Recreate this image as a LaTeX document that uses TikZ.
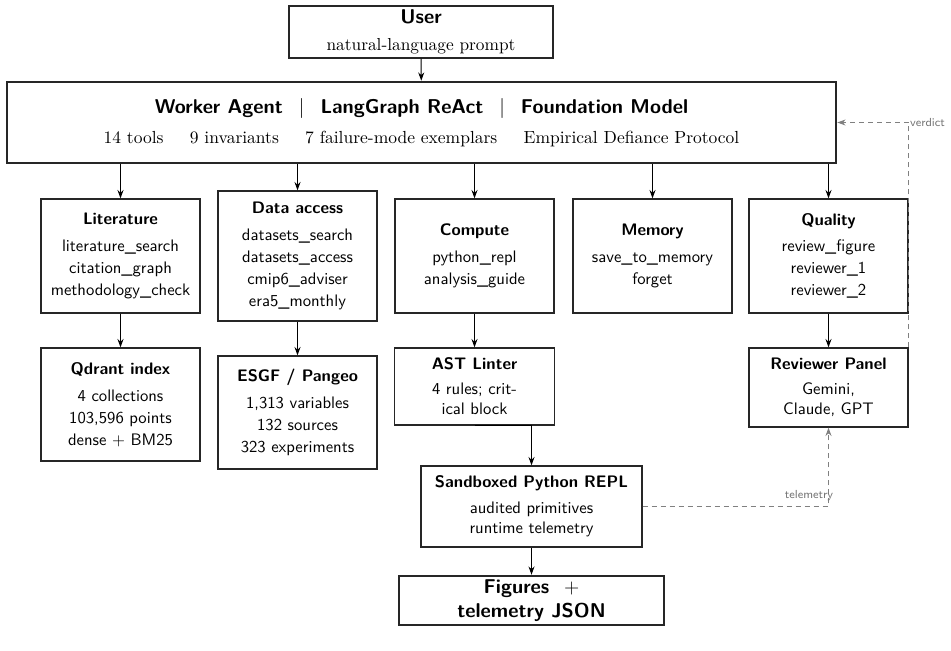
\documentclass[tikz,border=0pt]{standalone}
\usetikzlibrary{arrows.meta}
\begin{document}
\begin{tikzpicture}[x=0.6pt,y=-0.6pt,
  box/.style={draw=black!85, line width=0.8pt, align=center, font=\sffamily, inner sep=0pt},
  thickbox/.style={box, line width=1.5pt},
  sz/.style 2 args={minimum width={#1*0.6pt}, minimum height={#2*0.6pt}},
  arr/.style={-{Stealth[length=5pt,width=3.6pt]}, line width=0.6pt},
  fb/.style={-{Stealth[length=5pt,width=3.6pt]}, line width=0.7pt, draw=black!50, dash pattern=on 3pt off 2.4pt},
  lbl/.style={font=\sffamily\scriptsize, text=black!55, inner sep=0.5pt}]
\useasboundingbox (0,0) rectangle (951,650);

% top
\node[box, sz={264}{52}] (user) at (421,32)
  {{\large\bfseries User}\\[4pt]{\rmfamily\fontsize{10.4}{12.5}\selectfont natural-language prompt}};
\node[thickbox, sz={829}{81}] (worker) at (421.5,122.5)
  {{\large\bfseries Worker Agent\hspace{0.8em}{\mdseries$|$}\hspace{0.8em}LangGraph ReAct\hspace{0.8em}{\mdseries$|$}\hspace{0.8em}Foundation Model}\\[6pt]
   {\rmfamily\fontsize{10.5}{12.6}\selectfont 14 tools\hspace{1.5em}9 invariants\hspace{1.5em}7 failure-mode exemplars\hspace{1.5em}Empirical Defiance Protocol}};

% row 1
\node[box, sz={159}{114}] (lit) at (120.5,256)
  {\textbf{Literature}\\[4pt]literature\_search\\[1.2pt]citation\_graph\\[1.2pt]methodology\_check};
\node[box, sz={159}{130}] (data) at (297.5,256)
  {\textbf{Data access}\\[4pt]datasets\_search\\[1.2pt]datasets\_access\\[1.2pt]cmip6\_adviser\\[1.2pt]era5\_monthly};
\node[box, sz={159}{114}] (comp) at (474.5,256)
  {\textbf{Compute}\\[4pt]python\_repl\\[1.2pt]analysis\_guide};
\node[box, sz={159}{114}] (mem) at (652.5,256)
  {\textbf{Memory}\\[4pt]save\_to\_memory\\[1.2pt]forget};
\node[box, sz={159}{114}] (qual) at (828.5,256)
  {\textbf{Quality}\\[4pt]review\_figure\\[1.2pt]reviewer\_1\\[1.2pt]reviewer\_2};

% row 2
\node[box, sz={159}{113}] (qdrant) at (120.5,404.5)
  {\textbf{Qdrant index}\\[4pt]4 collections\\[1.2pt]103,596 points\\[1.2pt]dense $+$ BM25};
\node[box, sz={159}{113}] (esgf) at (297.5,412.5)
  {\textbf{ESGF / Pangeo}\\[4pt]1,313 variables\\[1.2pt]132 sources\\[1.2pt]323 experiments};
\node[box, sz={160}{77}] (ast) at (474.5,386.5)
  {\textbf{AST Linter}\\[3pt]4 rules; crit-\\ical block};
\node[box, sz={159}{79}] (rev) at (828.5,387.5)
  {\textbf{Reviewer Panel}\\[3pt]Gemini,\\Claude, GPT};

% bottom
\node[box, sz={221}{81}] (sandbox) at (531.5,506.5)
  {\textbf{Sandboxed Python REPL}\\[3.5pt]audited primitives\\runtime telemetry};
\node[thickbox, sz={265}{49}, font=\sffamily\large\bfseries] (fig) at (531.5,600.5)
  {Figures\ \ {\mdseries$+$}\\telemetry JSON};

% arrows
\draw[arr] (user) -- (worker);
\foreach \c in {lit,data,comp,mem,qual}
  \draw[arr] (worker.south -| \c.north) -- (\c.north);
\draw[arr] (lit) -- (qdrant);
\draw[arr] (data) -- (esgf);
\draw[arr] (comp) -- (ast);
\draw[arr] (qual) -- (rev);
\draw[arr] (ast.south) -| (sandbox.north);
\draw[arr] (sandbox) -- (fig);

% feedback
\draw[fb] (sandbox.east) -| (rev.south)
  node[lbl, pos=0.5, anchor=south east, xshift=3.6pt, yshift=2.5pt] {telemetry};
\draw[fb] (rev.north east) |- (worker.east)
  node[lbl, pos=0.5, anchor=west] {verdict};
\end{tikzpicture}
\end{document}
